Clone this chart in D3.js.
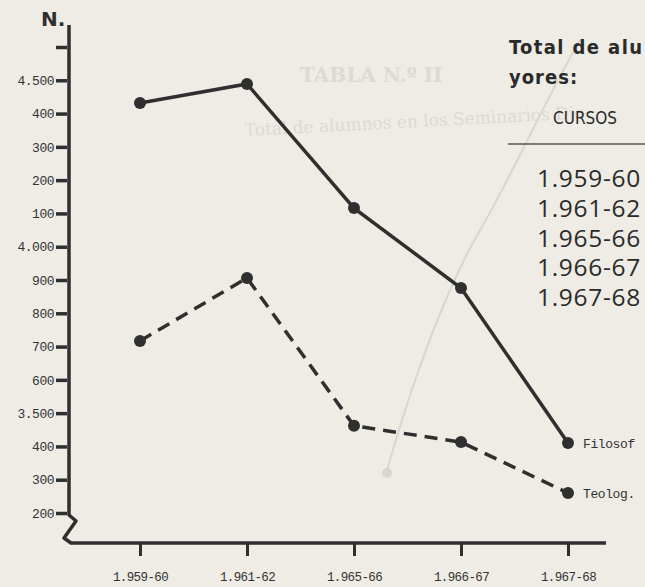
<!DOCTYPE html>
<html>
<head>
<meta charset="utf-8">
<script src="https://d3js.org/d3.v7.min.js"></script>
<style>
    body { margin: 0; background: #eeece5; }
    svg { display: block; }
    .tick-lbl { font-family: 'Liberation Mono', 'DejaVu Sans Mono', monospace; fill: #333; }
    .table-txt { font-family: 'Open Sans', 'DejaVu Sans', sans-serif; fill: #2a2a2a; }
</style>
</head>
<body>
<div id="chart"></div>
<script>
// Chart data
const cursos = ["1.959-60", "1.961-62", "1.965-66", "1.966-67", "1.967-68"];
const filosofia = [4432, 4489, 4116, 3876, 3410];
const teologia = [3717, 3906, 3462, 3413, 3260];
const yTickValues = [4600, 4500, 4400, 4300, 4200, 4100, 4000, 3900, 3800, 3700, 3600, 3500, 3400, 3300, 3200];
const yTickLabels = ["", "4.500", "400", "300", "200", "100", "4.000", "900", "800", "700", "600", "3.500", "400", "300", "200"];
const seriesNames = ["Filosof", "Teolog."];

const W = 645, H = 587;
const ink = "#2f2f2f";

const svg = d3.select("#chart").append("svg")
    .attr("width", W)
    .attr("height", H);

svg.append("rect").attr("width", W).attr("height", H).attr("fill", "#eeece5");

// faint show-through from the other page
const ghost = svg.append("g").attr("fill", "#dcdad3").attr("font-family", "'DejaVu Serif', serif");
ghost.append("text").attr("x", 300).attr("y", 82).attr("font-size", 20).attr("font-weight", "bold").text("TABLA N.º II");
ghost.append("text").attr("x", 245).attr("y", 136).attr("font-size", 17)
    .attr("transform", "rotate(-3 245 136)").text("Total de alumnos en los Seminarios Dio-");
svg.append("path")
    .attr("d", "M387,470 C410,390 440,300 480,230 C510,180 540,110 580,40")
    .attr("fill", "none").attr("stroke", "#d8d6d0").attr("stroke-width", 2);
svg.append("circle").attr("cx", 387).attr("cy", 473).attr("r", 5).attr("fill", "#d8d6d0");

// Scales
const x = d3.scalePoint().domain(cursos).range([140, 568]);
const y = d3.scaleLinear().domain([3200, 4600]).range([513, 47]);

// Y axis
const yAxis = svg.append("g")
    .attr("transform", "translate(67,0)")
    .call(d3.axisLeft(y).tickValues(yTickValues)
        .tickFormat((d, i) => yTickLabels[i]).tickSize(11).tickPadding(2));
yAxis.select(".domain").remove();
yAxis.selectAll(".tick line").attr("stroke", ink).attr("stroke-width", 3.5);
yAxis.selectAll(".tick text").attr("class", "tick-lbl").attr("font-size", 13)
    .attr("letter-spacing", -0.5).attr("fill", "#4a4a4a");

svg.append("path")
    .attr("d", `M69,25 L69,${y(3200) + 2} L76,521 L64,538 L71,543`)
    .attr("fill", "none").attr("stroke", ink).attr("stroke-width", 3.5)
    .attr("stroke-linejoin", "round");

svg.append("text")
    .attr("x", 41).attr("y", 26)
    .attr("font-family", "'DejaVu Sans', sans-serif")
    .attr("font-weight", "bold").attr("font-size", 20)
    .attr("fill", ink).text("N.");

// X axis
svg.append("line")
    .attr("x1", 70).attr("x2", 606).attr("y1", 543).attr("y2", 543)
    .attr("stroke", ink).attr("stroke-width", 3.5);
const xAxis = svg.append("g")
    .attr("transform", "translate(0,543)")
    .call(d3.axisBottom(x).tickSize(13).tickPadding(16));
xAxis.select(".domain").remove();
xAxis.selectAll(".tick line").attr("stroke", ink).attr("stroke-width", 3);
xAxis.selectAll(".tick text").attr("class", "tick-lbl").attr("font-size", 12.5)
    .attr("letter-spacing", -0.6).attr("fill", "#4a4a4a");

// Series
const line = d3.line().x((d, i) => x(cursos[i])).y(d => y(d));
[filosofia, teologia].forEach((vals, k) => {
    svg.append("path")
        .datum(vals)
        .attr("d", line)
        .attr("fill", "none")
        .attr("stroke", ink)
        .attr("stroke-width", 3.5)
        .attr("stroke-dasharray", k === 1 ? "13,8" : null);
    svg.selectAll(null).data(vals).enter().append("circle")
        .attr("cx", (d, i) => x(cursos[i]))
        .attr("cy", d => y(d))
        .attr("r", 6)
        .attr("fill", ink);
    svg.append("text")
        .attr("class", "tick-lbl")
        .attr("x", x(cursos[cursos.length - 1]) + 15)
        .attr("y", y(vals[vals.length - 1]) + 5)
        .attr("font-size", 13)
        .attr("letter-spacing", -0.4)
        .text(seriesNames[k]);
});

// Table fragment at right
const tbl = svg.append("g").attr("class", "table-txt");
tbl.append("text").attr("x", 509).attr("y", 54)
    .attr("font-family", "'DejaVu Sans Condensed', 'DejaVu Sans', sans-serif")
    .attr("font-weight", "bold").attr("font-size", 20).attr("letter-spacing", 1.4)
    .text("Total  de  alu");
tbl.append("text").attr("x", 509).attr("y", 84)
    .attr("font-family", "'DejaVu Sans Condensed', 'DejaVu Sans', sans-serif")
    .attr("font-weight", "bold").attr("font-size", 20).attr("letter-spacing", 1)
    .text("yores:");
tbl.append("text").attr("x", 553).attr("y", 124)
    .attr("font-family", "'DejaVu Sans Condensed', 'DejaVu Sans', sans-serif")
    .attr("font-size", 17).text("CURSOS");
svg.append("line").attr("x1", 508).attr("x2", 645).attr("y1", 144).attr("y2", 144)
    .attr("stroke", "#555").attr("stroke-width", 1.5);
tbl.selectAll(".yr").data(cursos).enter().append("text")
    .attr("x", 537)
    .attr("y", (d, i) => 187 + i * 29.8)
    .attr("font-size", 24.5)
    .attr("letter-spacing", 0.7)
    .text(d => d);
</script>
</body>
</html>
